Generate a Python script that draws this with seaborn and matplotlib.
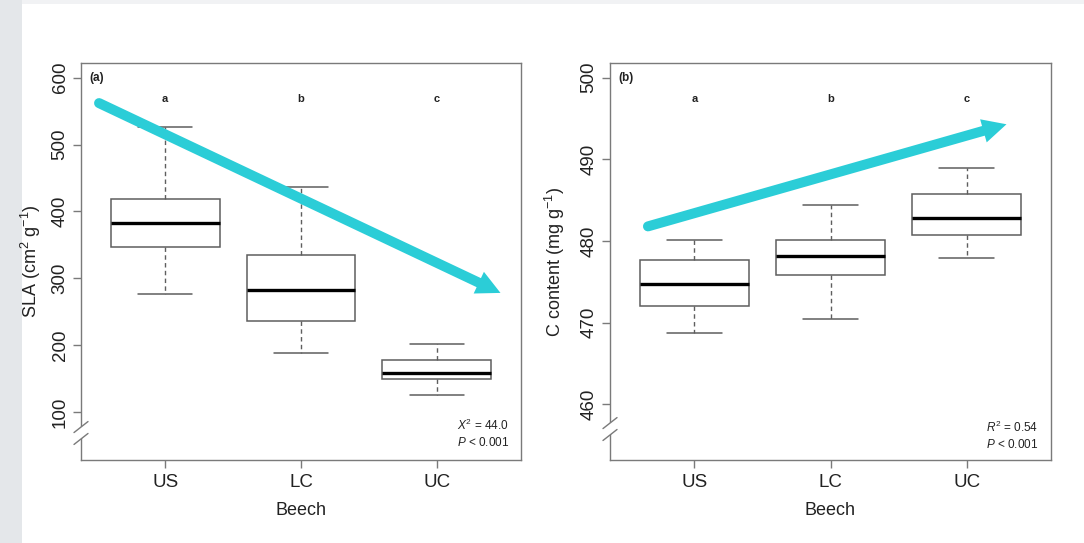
import numpy as np
import pandas as pd
import matplotlib
matplotlib.use("Agg")
import matplotlib.pyplot as plt
import matplotlib.transforms as mtransforms
from matplotlib.patches import Rectangle, Polygon
import seaborn as sns

# ---- data: five-number summaries (min, Q1, median, Q3, max) per beech site ----
sites = ["US", "LC", "UC"]

sla_min = [277, 188, 126]
sla_q1 = [346, 236, 149]
sla_median = [382, 283, 158]
sla_q3 = [419, 334, 177]
sla_max = [526, 437, 202]

c_min = [468.8, 470.5, 477.9]
c_q1 = [472.1, 475.8, 480.7]
c_median = [474.8, 478.2, 482.8]
c_q3 = [477.7, 480.1, 485.8]
c_max = [480.1, 484.4, 489.0]

group_letters = ["a", "b", "c"]
sla_ticks = [100, 200, 300, 400, 500, 600]
c_ticks = [460, 470, 480, 490, 500]

# trend arrows (start, tip) in data units
sla_arrow = [(-0.487, 562.0), (2.469, 278.0)]
c_arrow = [(-0.341, 481.8), (2.293, 494.3)]

ARROW_COLOR = "#2bcdd7"
LINE_GRAY = "#5e5e5e"
FRAME_GRAY = "#7a7a7a"
TEXT_COLOR = "#222222"


def summary_frame(lo, q1, med, q3, hi):
    rows = []
    for i, s in enumerate(sites):
        for v in (lo[i], q1[i], med[i], q3[i], hi[i]):
            rows.append({"site": s, "value": v})
    return pd.DataFrame(rows)


sla_df = summary_frame(sla_min, sla_q1, sla_median, sla_q3, sla_max)
c_df = summary_frame(c_min, c_q1, c_median, c_q3, c_max)

sns.set_theme(style="ticks")
plt.rcParams["font.family"] = ["Liberation Sans", "DejaVu Sans"]
plt.rcParams["mathtext.fontset"] = "custom"
plt.rcParams["mathtext.rm"] = "Liberation Sans"
plt.rcParams["mathtext.it"] = "Liberation Sans:italic"
plt.rcParams["mathtext.bf"] = "Liberation Sans:bold"

W, H = 1084, 543
fig = plt.figure(figsize=(W / 100, H / 100), dpi=100)
fig.patch.set_facecolor("white")

# page-like backdrop strips
fig.add_artist(Rectangle((0, 0), 22 / W, 1, transform=fig.transFigure,
                         facecolor="#e4e7ea", edgecolor="none", zorder=-5))
fig.add_artist(Rectangle((22 / W, 1 - 4 / H), 1, 4 / H, transform=fig.transFigure,
                         facecolor="#f1f2f4", edgecolor="none", zorder=-5))

ax1 = fig.add_axes([81 / W, (H - 460) / H, 440 / W, 397 / H])
ax2 = fig.add_axes([610 / W, (H - 460) / H, 441 / W, 397 / H])


def draw_boxes(ax, df):
    sns.boxplot(
        data=df, x="site", y="value", order=sites, ax=ax,
        width=0.8, whis=(0, 100), showfliers=False,
        color="white", linecolor=LINE_GRAY, linewidth=1.1,
        medianprops=dict(color="black", linewidth=2.4),
        whiskerprops=dict(linestyle=(0, (3.2, 2.4)), linewidth=1.0),
    )


def style_axes(ax, ylim, yticks, ylabel, ylabel_x):
    ax.set_xlim(-0.62, 2.62)
    ax.set_ylim(*ylim)
    ax.set_yticks(yticks)
    ax.set_facecolor("white")
    for sp in ax.spines.values():
        sp.set_visible(True)
        sp.set_color(FRAME_GRAY)
        sp.set_linewidth(1.0)
    ax.tick_params(direction="out", length=6, width=1.0, color=FRAME_GRAY,
                   labelsize=13.5, labelcolor=TEXT_COLOR)
    ax.tick_params(axis="x", pad=4)
    ax.tick_params(axis="y", labelrotation=90, pad=3)
    plt.setp(ax.get_yticklabels(), va="center")
    ax.set_xlabel("Beech", fontsize=13, color=TEXT_COLOR)
    ax.xaxis.set_label_coords(0.5, -0.105)
    ax.set_ylabel(ylabel, fontsize=13, color=TEXT_COLOR)
    ax.yaxis.set_label_coords(ylabel_x, 0.5)


def axis_break(ax, y_hi, y_lo):
    # slash-style break on the left spine
    dx, dy = 7 / 440, 5.5 / 397
    gap = Polygon([(-dx, y_hi - dy), (dx, y_hi + dy), (dx, y_lo + dy), (-dx, y_lo - dy)],
                  closed=True, transform=ax.transAxes, facecolor="white",
                  edgecolor="none", clip_on=False, zorder=6)
    ax.add_patch(gap)
    for yc in (y_hi, y_lo):
        ax.plot([-dx, dx], [yc - dy, yc + dy], transform=ax.transAxes,
                color=FRAME_GRAY, lw=1.0, clip_on=False, zorder=7)


def trend_arrow(ax, start, tip, head_len=24, head_half=12, lw_px=10):
    p0 = ax.transData.transform(start)
    p1 = ax.transData.transform(tip)
    d = p1 - p0
    u = d / np.hypot(*d)
    n = np.array([-u[1], u[0]])
    base = p1 - head_len * u
    line_end = p1 - (head_len - 6) * u
    inv = ax.transData.inverted()
    ls, le = inv.transform(np.vstack([p0, line_end]))
    ax.plot([ls[0], le[0]], [ls[1], le[1]], color=ARROW_COLOR,
            lw=lw_px * 0.72, solid_capstyle="round", clip_on=False, zorder=8)
    tri = inv.transform(np.vstack([p1, base + head_half * n, base - head_half * n]))
    ax.add_patch(Polygon(tri, closed=True, facecolor=ARROW_COLOR,
                         edgecolor="none", clip_on=False, zorder=8))


def annotate_panel(ax, tag, stat_lines, stat_x):
    ax.text(0.02, 0.962, tag, transform=ax.transAxes, ha="left", va="center",
            fontsize=8.5, fontweight="bold", color=TEXT_COLOR)
    blend = mtransforms.blended_transform_factory(ax.transData, ax.transAxes)
    for i, letter in enumerate(group_letters):
        ax.text(i, 0.909, letter, transform=blend, ha="center", va="center",
                fontsize=8, fontweight="bold", color=TEXT_COLOR)
    for txt, y in stat_lines:
        ax.text(stat_x, y, txt, transform=ax.transAxes, ha="right", va="center",
                fontsize=8.5, color=TEXT_COLOR)


# ---- panel (a): specific leaf area ----
draw_boxes(ax1, sla_df)
style_axes(ax1, (28, 622), sla_ticks, r"SLA (cm$^{2}$ g$^{-1}$)", -0.087)
axis_break(ax1, 0.083, 0.053)
annotate_panel(ax1, "(a)",
               [(r"$\mathit{X}^{2}$ = 44.0", 0.086), (r"$\mathit{P}$ < 0.001", 0.043)],
               0.973)
trend_arrow(ax1, *sla_arrow)

# ---- panel (b): carbon content ----
draw_boxes(ax2, c_df)
style_axes(ax2, (453.2, 501.8), c_ticks, r"C content (mg g$^{-1}$)", -0.097)
axis_break(ax2, 0.093, 0.063)
annotate_panel(ax2, "(b)",
               [(r"$\mathit{R}^{2}$ = 0.54", 0.083), (r"$\mathit{P}$ < 0.001", 0.038)],
               0.970)
trend_arrow(ax2, *c_arrow)

fig.savefig("out.png", dpi=100, facecolor=fig.get_facecolor())
